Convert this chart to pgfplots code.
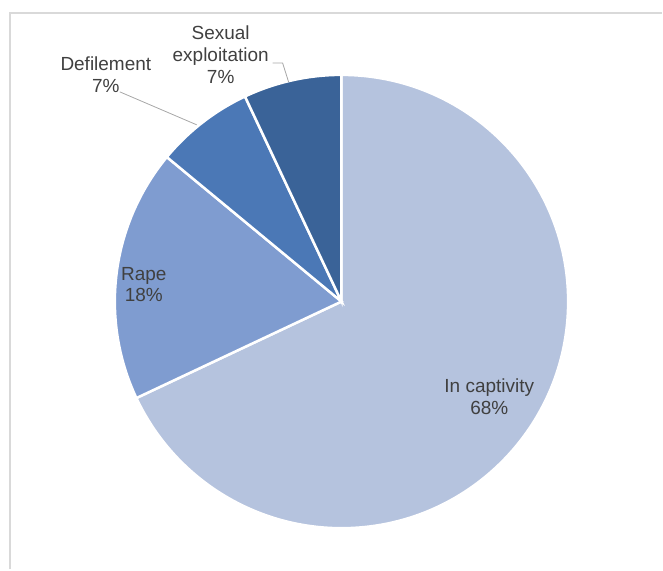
\documentclass[border=0pt]{standalone}
\usepackage{pgfplots}
\pgfplotsset{compat=1.18}
\usepackage{fontspec}
\setmainfont{Liberation Sans}

\definecolor{cCapt}{HTML}{B5C3DE}
\definecolor{cRape}{HTML}{7F9CD0}
\definecolor{cDefi}{HTML}{4B78B6}
\definecolor{cSexu}{HTML}{3A6398}
\definecolor{labtxt}{HTML}{404040}

\begin{document}
\begin{tikzpicture}[
    lab/.style={font=\fontsize{19}{22}\selectfont, text=labtxt, align=center},
]
\begin{axis}[
    x=1pt, y=1pt,
    xmin=-342, xmax=321,
    ymin=-268, ymax=302,
    hide axis,
    scale only axis,
    clip=false,
]
\path (axis cs:-342,-268) rectangle (axis cs:321,302);
% frame
\draw[color=black!15, line width=2pt] (axis cs:-332,-268) -- (axis cs:-332,289) -- (axis cs:321,289);

% slices: clockwise from 12 o'clock, percent values in delta angle
\addplot[fill=cCapt, draw=white, line width=2.5pt, data cs=polar]
    coordinates {(0,0) (90,227)} arc[start angle=90, delta angle=-68*3.6, radius=227pt] -- cycle;
\addplot[fill=cRape, draw=white, line width=2.5pt, data cs=polar]
    coordinates {(0,0) (-154.8,227)} arc[start angle=-154.8, delta angle=-18*3.6, radius=227pt] -- cycle;
\addplot[fill=cDefi, draw=white, line width=2.5pt, data cs=polar]
    coordinates {(0,0) (-219.6,227)} arc[start angle=-219.6, delta angle=-7*3.6, radius=227pt] -- cycle;
\addplot[fill=cSexu, draw=white, line width=2.5pt, data cs=polar]
    coordinates {(0,0) (-244.8,227)} arc[start angle=-244.8, delta angle=-7*3.6, radius=227pt] -- cycle;

% labels
\node[lab] at (axis cs:148,-95) {In captivity\\68\%};
\node[lab] at (axis cs:-198,17) {Rape\\18\%};
\node[lab] at (axis cs:-236,227) {Defilement\\7\%};
\node[lab] at (axis cs:-121,247) {Sexual\\exploitation\\7\%};

% leader lines
\draw[color=black!35, line width=0.8pt] (axis cs:-222,210) -- (axis cs:-145,177);
\draw[color=black!35, line width=0.8pt] (axis cs:-69,239) -- (axis cs:-59,239) -- (axis cs:-53,220);
\end{axis}
\end{tikzpicture}
\end{document}
